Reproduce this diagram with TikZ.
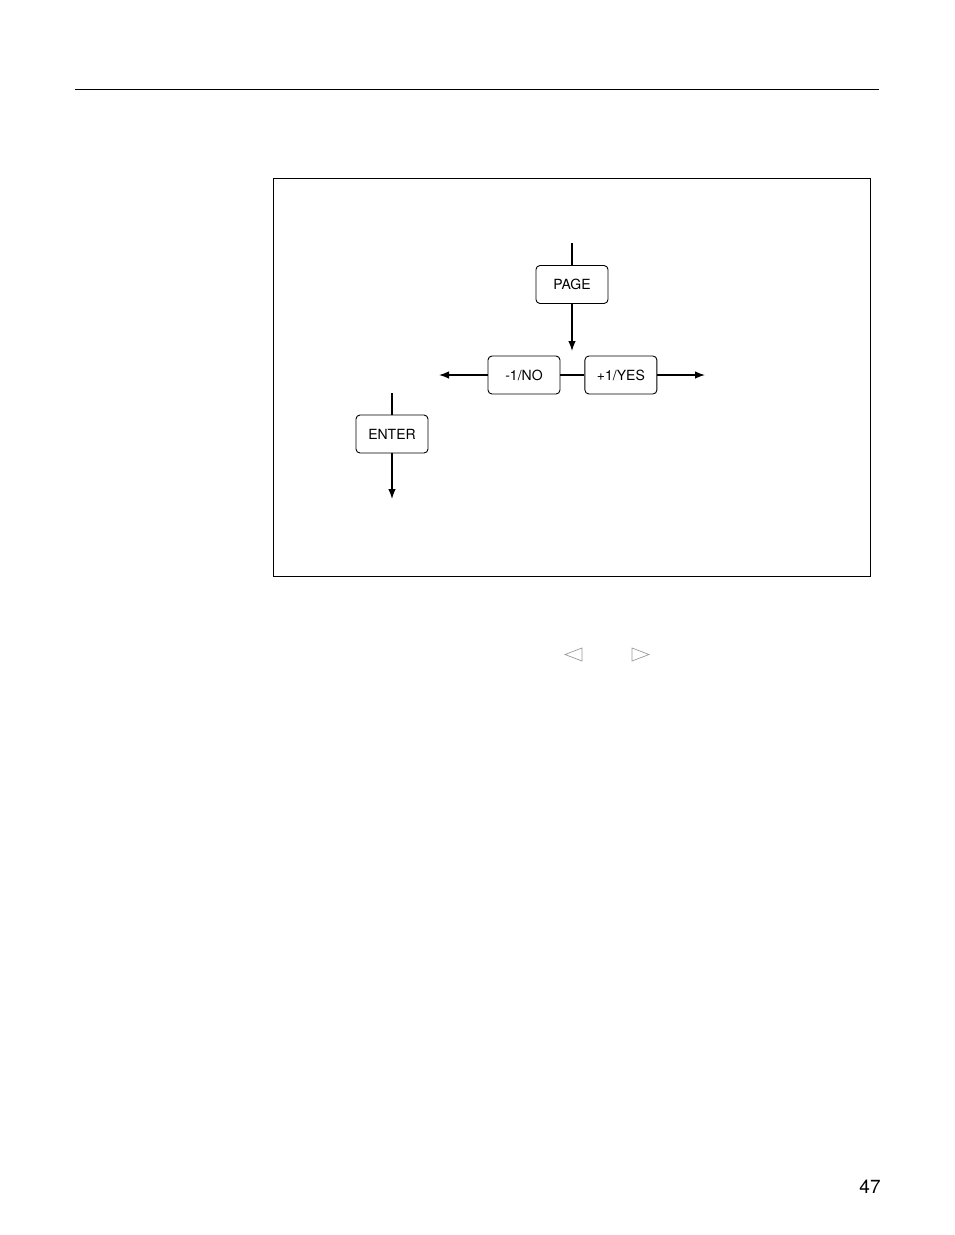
\documentclass[tikz,border=0pt]{standalone}
\usepackage{fontspec}
\setmainfont{TeX Gyre Heros}
\usetikzlibrary{arrows.meta,positioning}

\tikzset{
  key/.style={draw, -, line width=0.9pt, rounded corners=4pt,
              minimum width=72pt, minimum height=38pt,
              inner sep=0pt, font=\fontsize{14}{16}\selectfont},
  rule/.style={-, line width=0.8pt},
  hint/.style={-, draw=black!40, line width=0.7pt, line join=miter}
}

\begin{document}
\begin{tikzpicture}[x=1pt,y=-1pt,->,>={Latex[length=10pt,width=7.5pt]},line width=1.3pt]
  \useasboundingbox (0,0) rectangle (954,1235);

  % page furniture
  \draw[rule] (75,89) -- (879,89);
  \draw[rule] (273,178) rectangle (870,576);

  % keys
  \node[key] (page)  at (572,284.5)     {PAGE};
  \node[key] (no)    at (524,375)       {-1/NO};
  \node[key] (yes)   [right=24pt of no] {+1/YES};
  \node[key] (enter) at (392,434)       {ENTER};

  % free ends
  \coordinate (pagein)   at (572,243);
  \coordinate (pageout)  at (572,351);
  \coordinate (noout)    at (439,375);
  \coordinate (yesout)   at (705,375);
  \coordinate (enterin)  at (392,393);
  \coordinate (enterout) at (392,499);

  \draw[-] (pagein) -- (page);
  \draw (page) -- (pageout);
  \draw[-] (no) -- (yes);
  \draw (no) -- (noout);
  \draw (yes) -- (yesout);
  \draw[-] (enterin) -- (enter);
  \draw (enter) -- (enterout);

  % arrow glyphs
  \draw[hint] (565,654.5) -- (582,648) -- (582,661) -- cycle;
  \draw[hint] (649,654.5) -- (632,648) -- (632,661) -- cycle;

  \node[font=\fontsize{19}{22}\selectfont] (pagenum) at (870,1187) {47};
\end{tikzpicture}
\end{document}
